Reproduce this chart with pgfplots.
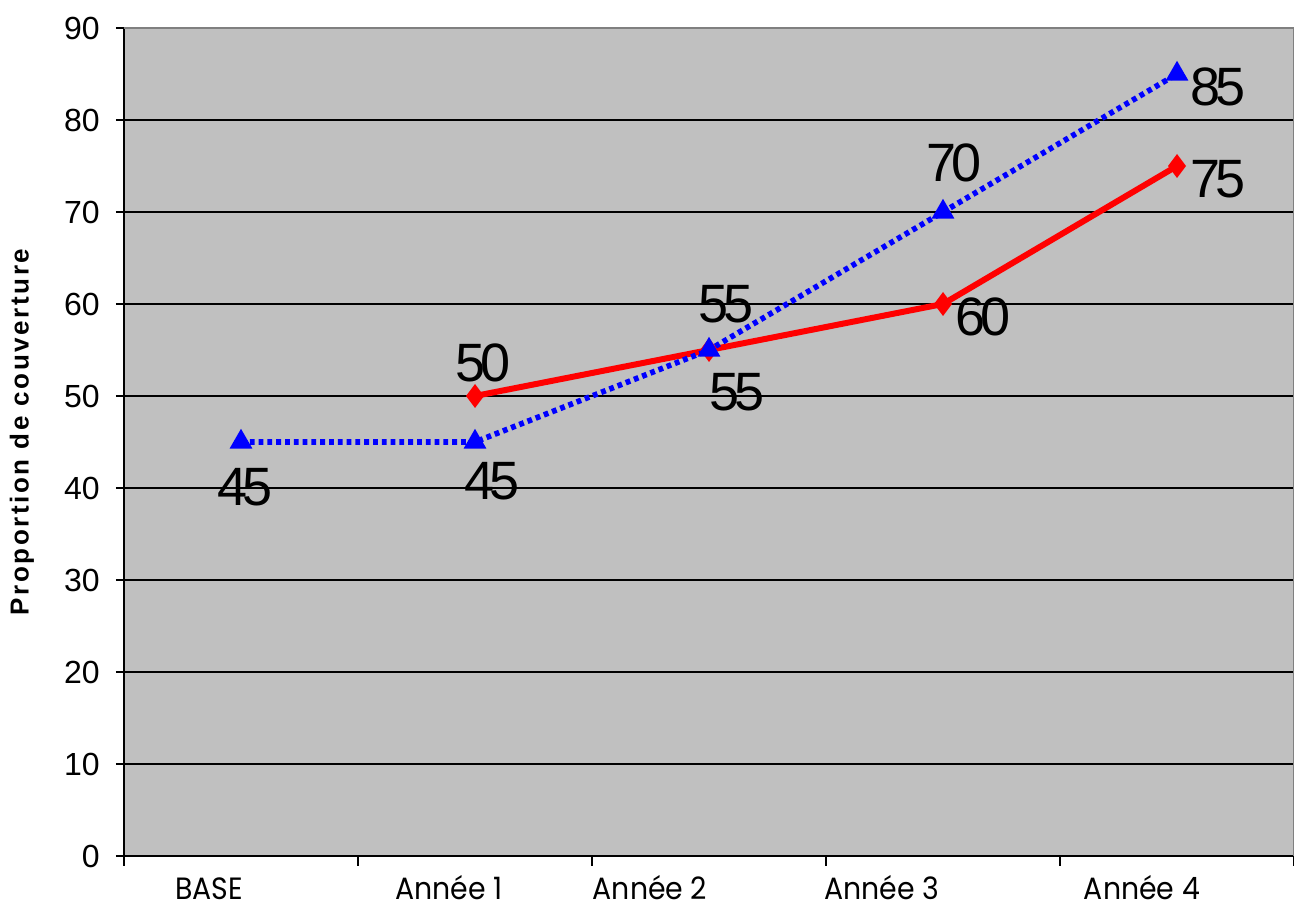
\documentclass[border=0pt]{standalone}
\usepackage{fontspec}
\setmainfont{Liberation Sans}
\newfontfamily\numfont[LetterSpace=-8]{Liberation Sans}
\newfontfamily\catfont[FakeStretch=0.92]{Poppins}
\newfontfamily\labfont[LetterSpace=10]{Liberation Sans}
\usepackage{pgfplots}
\usepackage{pgfplotstable}
\pgfplotsset{compat=1.18}
\pgfkeys{/pgf/number format/assume math mode=true}

\definecolor{bgGray}{HTML}{C0C0C0}
\definecolor{lineRed}{HTML}{FF0000}
\definecolor{lineBlue}{HTML}{0000FF}

% x y and label offset (pt)
\pgfplotstableread{
x y dx dy
1 50 4 16.5
2 55 14 -21
3 60 20 -6.5
4 75 20.5 -6.5
}\redtab

\pgfplotstableread{
x y dx dy
0 45 2 -22.5
1 45 8.5 -19.5
2 55 8.5 23
3 70 5.5 24.5
4 85 20.5 -6.5
}\bluetab

\begin{document}
\begin{tikzpicture}
\begin{axis}[
    scale only axis,
    width=585pt, height=414pt,
    xmin=-0.5, xmax=4.5,
    ymin=0, ymax=90,
    axis background/.style={fill=bgGray},
    axis x line*=bottom, axis y line*=left,
    x axis line style={line width=1pt},
    y axis line style={line width=0.6pt},
    % label centres
    xtick={-0.137,0.889,1.748,2.739,3.850},
    xticklabels={BASE, Année 1, Année 2, Année 3, Année 4},
    minor xtick={-0.5,0.5,1.5,2.5,3.5,4.5},
    major x tick style={draw=none},
    minor x tick style={black, line width=0.6pt},
    minor tick length=5pt,
    ytick={0,10,...,90},
    major tick length=4pt,
    y tick style={black, line width=0.6pt},
    tick align=outside,
    ymajorgrids,
    grid style={black, line width=0.7pt},
    xticklabel style={font=\catfont\fontsize{15.4}{17}\selectfont, anchor=base, yshift=-18pt, inner sep=0pt},
    yticklabel style={font=\fontsize{16}{18}\selectfont, anchor=east, inner sep=0pt, xshift=-8pt},
    ylabel={Proportion de couverture},
    every axis y label/.style={at={(axis description cs:0,0.512)}, xshift=-51pt, rotate=90, anchor=center,
        font=\labfont\bfseries\fontsize{13}{15}\selectfont},
    nodes near coords,
    visualization depends on={\thisrow{dx} \as \dx},
    visualization depends on={\thisrow{dy} \as \dy},
    nodes near coords style={anchor=center, inner sep=0pt, xshift=\dx pt, yshift=\dy pt,
        font=\numfont\fontsize{27}{30}\selectfont, text=black},
]
\addplot[lineRed, line width=3pt, mark=diamond*, mark size=3.5pt,
    mark options={solid, fill=lineRed}] table[x=x, y=y] {\redtab};
\addplot[lineBlue, line width=2.8pt, dash pattern=on 2.4pt off 2pt, mark=triangle*, mark size=3.8pt,
    mark options={solid, fill=lineBlue}] table[x=x, y=y] {\bluetab};
\draw[gray, line width=0.8pt] (rel axis cs:0,1) -- (rel axis cs:1,1) -- (rel axis cs:1,0);
\end{axis}
\pgfresetboundingbox
\path[use as bounding box] ([xshift=-62pt,yshift=-25.5pt]current axis.south west)
    rectangle ([yshift=14pt]current axis.north east);
\end{tikzpicture}
\end{document}
